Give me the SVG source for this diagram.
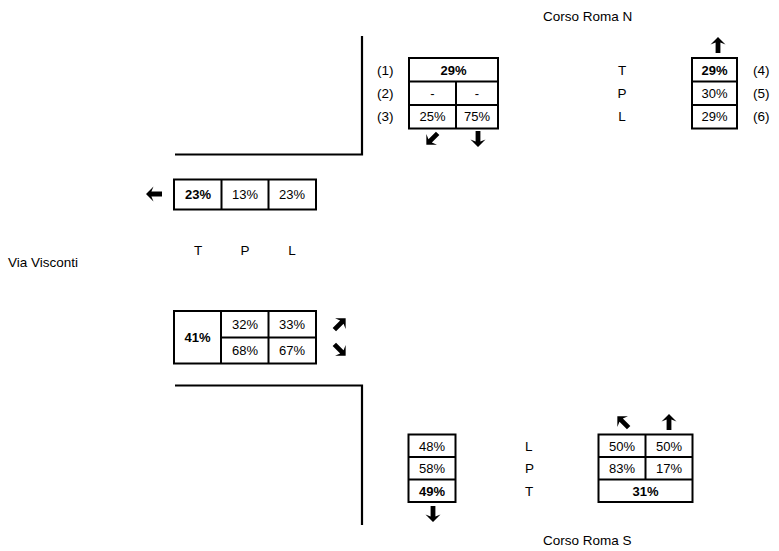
<svg xmlns="http://www.w3.org/2000/svg" xmlns:xlink="http://www.w3.org/1999/xlink" width="779" height="551" viewBox="0 0 779 551">
<style>
text{font-family:"Liberation Sans",Arial,sans-serif;font-size:13px;fill:#000}
.c{text-anchor:middle}
.b{font-weight:bold}
.lbl{font-size:13.5px}
.cell{fill:#fff;stroke:#000;stroke-width:2}
.ln{stroke:#000;stroke-width:2;fill:none}
.road{stroke:#000;stroke-width:2.2;fill:none}
</style>
<defs>
<path id="arr" d="M0,-8 L7.5,-0.5 L2.4,-2.6 L2.4,8 L-2.4,8 L-2.4,-2.6 L-7.5,-0.5 Z" fill="#000"/>
</defs>
<rect width="779" height="551" fill="#fff"/>

<g id="roads">
<path class="road" d="M362,36 V154.5 H175"/>
<path class="road" d="M175,385.5 H362 V525"/>
</g>

<g id="street-labels">
<text class="lbl" x="543" y="21">Corso Roma N</text>
<text class="lbl" x="8" y="267">Via Visconti</text>
<text class="lbl" x="543" y="545">Corso Roma S</text>
</g>

<g id="north-in">
<rect class="cell" x="409" y="58" width="89" height="70.5"/>
<path class="ln" d="M409,81.5 H498 M409,105 H498 M456,81.5 V128.5"/>
<text class="c b" x="453.5" y="74.5">29%</text>
<text class="c" x="432.5" y="97.5">-</text>
<text class="c" x="477" y="97.5">-</text>
<text class="c" x="432.5" y="121">25%</text>
<text class="c" x="477" y="121">75%</text>
<text class="lbl" x="377" y="74.5">(1)</text>
<text class="lbl" x="377" y="97.5">(2)</text>
<text class="lbl" x="377" y="121">(3)</text>
</g>

<g id="north-out">
<rect class="cell" x="692" y="58" width="45" height="70.5"/>
<path class="ln" d="M692,81.5 H737 M692,105 H737"/>
<text class="c b" x="714.5" y="74.5">29%</text>
<text class="c" x="714.5" y="97.5">30%</text>
<text class="c" x="714.5" y="121">29%</text>
<text class="lbl c" x="622" y="74.5">T</text>
<text class="lbl c" x="622" y="97.5">P</text>
<text class="lbl c" x="622" y="121">L</text>
<text class="lbl" x="753" y="74.5">(4)</text>
<text class="lbl" x="753" y="97.5">(5)</text>
<text class="lbl" x="753" y="121">(6)</text>
</g>

<g id="west-out">
<rect class="cell" x="174" y="179.5" width="142" height="30"/>
<path class="ln" d="M221.5,179.5 V209.5 M268.5,179.5 V209.5"/>
<text class="c b" x="198" y="199">23%</text>
<text class="c" x="245" y="199">13%</text>
<text class="c" x="292" y="199">23%</text>
<text class="lbl c" x="198" y="255">T</text>
<text class="lbl c" x="245" y="255">P</text>
<text class="lbl c" x="292" y="255">L</text>
</g>

<g id="west-in">
<rect class="cell" x="174" y="311" width="142" height="52.5"/>
<path class="ln" d="M221,311 V363.5 M268.5,311 V363.5 M221,337.5 H316"/>
<text class="c b" x="197.5" y="341.5">41%</text>
<text class="c" x="245" y="328.5">32%</text>
<text class="c" x="292" y="328.5">33%</text>
<text class="c" x="245" y="355">68%</text>
<text class="c" x="292" y="355">67%</text>
</g>

<g id="south-out">
<rect class="cell" x="408.5" y="434.5" width="47" height="67.5"/>
<path class="ln" d="M408.5,457 H455.5 M408.5,479.5 H455.5"/>
<text class="c" x="432" y="450.5">48%</text>
<text class="c" x="432" y="473">58%</text>
<text class="c b" x="432" y="495.5">49%</text>
<text class="lbl" x="525" y="450.5">L</text>
<text class="lbl" x="525" y="473">P</text>
<text class="lbl" x="525" y="495.5">T</text>
</g>

<g id="south-in">
<rect class="cell" x="598.5" y="434.5" width="94" height="67.5"/>
<path class="ln" d="M598.5,457 H692.5 M598.5,479.5 H692.5 M645.5,434.5 V479.5"/>
<text class="c" x="622" y="450.5">50%</text>
<text class="c" x="669" y="450.5">50%</text>
<text class="c" x="622" y="473">83%</text>
<text class="c" x="669" y="473">17%</text>
<text class="c b" x="645.5" y="495.5">31%</text>
</g>

<g id="arrows">
<use xlink:href="#arr" transform="translate(432,139) rotate(-135)"/>
<use xlink:href="#arr" transform="translate(478,139) rotate(180)"/>
<use xlink:href="#arr" transform="translate(718,45)"/>
<use xlink:href="#arr" transform="translate(154,194) rotate(-90)"/>
<use xlink:href="#arr" transform="translate(340,324) rotate(45)"/>
<use xlink:href="#arr" transform="translate(340,350) rotate(135)"/>
<use xlink:href="#arr" transform="translate(433,514) rotate(180)"/>
<use xlink:href="#arr" transform="translate(623,422) rotate(-45)"/>
<use xlink:href="#arr" transform="translate(669,422)"/>
</g>
</svg>
